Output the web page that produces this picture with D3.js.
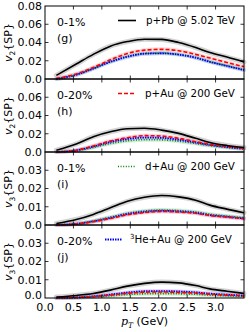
<!DOCTYPE html>
<html>
<head>
<meta charset="utf-8">
<script src="https://cdn.jsdelivr.net/npm/d3@7"></script>
<style>
body{margin:0;background:#fff;}
text{font-family:"DejaVu Sans",sans-serif;}
</style>
</head>
<body>
<div id="chart"></div>
<script>
// pT grid (GeV)
var pT = [0.2, 0.55, 0.85, 1.15, 1.45, 1.75, 2.05, 2.35, 2.65, 2.9, 3.2, 3.5];
var xTicks = [0.0, 0.5, 1.0, 1.5, 2.0, 2.5, 3.0];
var systems = ["p+Pb @ 5.02 TeV", "p+Au @ 200 GeV", "d+Au @ 200 GeV", "He+Au @ 200 GeV"];
var centrality = ["0-1%", "0-20%", "0-1%", "0-20%"];
var panelTags = ["(g)", "(h)", "(i)", "(j)"];
var v2Ticks = [0.0, 0.02, 0.04, 0.06, 0.08];
var v3Ticks = [0.0, 0.01, 0.02, 0.03];

// (g) v2 0-1%
var g_pPb  = [0.004, 0.0164, 0.027, 0.036, 0.041, 0.0436, 0.0434, 0.040, 0.0345, 0.029, 0.024, 0.0186];
var g_pAu  = [0.0007, 0.0055, 0.0127, 0.021, 0.028, 0.0316, 0.0325, 0.031, 0.027, 0.023, 0.018, 0.0135];
var g_dAu  = [0.0, 0.0047, 0.0116, 0.019, 0.0247, 0.028, 0.0285, 0.027, 0.0236, 0.019, 0.0145, 0.010];
var g_HeAu = [0.0, 0.0046, 0.0114, 0.0188, 0.0244, 0.0277, 0.0282, 0.0267, 0.0233, 0.0188, 0.0143, 0.0098];
// (h) v2 0-20%
var h_pPb  = [0.002, 0.0088, 0.0168, 0.0222, 0.0255, 0.026, 0.024, 0.0204, 0.015, 0.0105, 0.0072, 0.005];
var h_pAu  = [0.0, 0.002, 0.0066, 0.012, 0.0157, 0.0179, 0.0175, 0.015, 0.0113, 0.0084, 0.006, 0.004];
var h_dAu  = [0.0, 0.0015, 0.005, 0.0093, 0.0122, 0.0135, 0.0133, 0.0118, 0.0093, 0.007, 0.005, 0.0033];
var h_HeAu = [0.0, 0.0018, 0.006, 0.011, 0.0143, 0.0158, 0.0155, 0.0135, 0.0105, 0.0078, 0.0055, 0.0037];
// (i) v3 0-1%
var i_pPb  = [0.0008, 0.003, 0.0058, 0.0094, 0.013, 0.0152, 0.0162, 0.0154, 0.0136, 0.0109, 0.0087, 0.0067];
var i_pAu  = [0.0, 0.0005, 0.0018, 0.0036, 0.0056, 0.0068, 0.0074, 0.0071, 0.0064, 0.0052, 0.0043, 0.0034];
var i_dAu  = [0.0, 0.0007, 0.0022, 0.0043, 0.0064, 0.0077, 0.0082, 0.0079, 0.0071, 0.0059, 0.0049, 0.004];
var i_HeAu = [0.0, 0.0006, 0.002, 0.0039, 0.006, 0.0072, 0.0078, 0.0074, 0.0067, 0.0054, 0.0045, 0.0036];
// (j) v3 0-20%
var j_pPb  = [0.0005, 0.0014, 0.0025, 0.0043, 0.0065, 0.008, 0.0087, 0.0083, 0.0068, 0.005, 0.0037, 0.0025];
var j_pAu  = [0.0, 0.0003, 0.0008, 0.0016, 0.0026, 0.0032, 0.0033, 0.0031, 0.0027, 0.0021, 0.0016, 0.0011];
var j_dAu  = [0.0, 0.0002, 0.0006, 0.0012, 0.0019, 0.0023, 0.0024, 0.0023, 0.0020, 0.0016, 0.0012, 0.0009];
var j_HeAu = [0.0, 0.0003, 0.0009, 0.0019, 0.003, 0.0037, 0.0038, 0.0036, 0.0031, 0.0024, 0.0018, 0.0013];

var panelData = [
  [g_pPb, g_pAu, g_dAu, g_HeAu],
  [h_pPb, h_pAu, h_dAu, h_HeAu],
  [i_pPb, i_pAu, i_dAu, i_HeAu],
  [j_pPb, j_pAu, j_dAu, j_HeAu]
];

var width = 249, height = 332;
var margin = {left: 45, right: 5, top: 6};
var panelH = 73;
var plotW = width - margin.left - margin.right;

var styles = [
  {color: "#000000", band: "#808080", bandOp: 0.35, dash: null, w: 1.6},
  {color: "#ff0000", band: "#ff9999", bandOp: 0.35, dash: "4,2", w: 1.6},
  {color: "#008000", band: "#80d080", bandOp: 0.35, dash: "1,1.6", w: 1.6},
  {color: "#0000ff", band: "#9999ff", bandOp: 0.35, dash: "1.5,1", w: 1.8}
];
// legend placement per panel: line start/end and text start
var legendPos = [
  {x1: 118, x2: 136, tx: 146},
  {x1: 118, x2: 136, tx: 145},
  {x1: 118, x2: 136, tx: 145},
  {x1: 105, x2: 122, tx: 130}
];

var svg = d3.select("#chart").append("svg")
  .attr("width", width).attr("height", height);

var x = d3.scaleLinear().domain([0, 3.5]).range([margin.left, margin.left + plotW]);

panelData.forEach(function(series, p){
  var top = margin.top + p*panelH;
  var isV2 = p < 2;
  var y = d3.scaleLinear().domain([0, isV2 ? 0.08 : 0.04]).range([top + panelH, top]);
  var g = svg.append("g").attr("class", "panel--"+p);

  var line = d3.line().curve(d3.curveMonotoneX)
    .x(function(d,i){ return x(pT[i]); })
    .y(function(d){ return y(d); });

  // bands (drawn as wide faint strokes)
  series.forEach(function(s, k){
    g.append("path").attr("d", line(s))
      .attr("fill", "none")
      .attr("stroke", styles[k].band)
      .attr("stroke-opacity", styles[k].bandOp)
      .attr("stroke-width", k == 0 ? 5 : 4)
      .attr("stroke-linecap", "round");
  });
  [2, 3, 1, 0].forEach(function(k){
    g.append("path").attr("d", line(series[k]))
      .attr("fill", "none")
      .attr("stroke", styles[k].color)
      .attr("stroke-width", styles[k].w)
      .attr("stroke-dasharray", styles[k].dash);
  });

  // frame
  g.append("rect")
    .attr("x", margin.left).attr("y", top)
    .attr("width", plotW).attr("height", panelH)
    .attr("fill", "none").attr("stroke", "#000").attr("stroke-width", 1);

  // x ticks, inward, top & bottom
  xTicks.forEach(function(t){
    if(t == 0) return;
    g.append("line").attr("x1", x(t)).attr("x2", x(t))
      .attr("y1", top+panelH).attr("y2", top+panelH-3.5).attr("stroke", "#000").attr("stroke-width", 0.8);
    g.append("line").attr("x1", x(t)).attr("x2", x(t))
      .attr("y1", top).attr("y2", top+3.5).attr("stroke", "#000").attr("stroke-width", 0.8);
  });

  // y ticks
  var yt = isV2 ? v2Ticks : v3Ticks;
  yt.forEach(function(t){
    if(t > 0 && t < y.domain()[1]){
      g.append("line").attr("x1", margin.left).attr("x2", margin.left+3.5)
        .attr("y1", y(t)).attr("y2", y(t)).attr("stroke", "#000").attr("stroke-width", 0.8);
      g.append("line").attr("x1", margin.left+plotW).attr("x2", margin.left+plotW-3.5)
        .attr("y1", y(t)).attr("y2", y(t)).attr("stroke", "#000").attr("stroke-width", 0.8);
    }
    if(p == 1 && t == 0.08) return;
    g.append("text")
      .attr("x", margin.left - 3).attr("y", y(t))
      .attr("dy", p == 3 && t == 0 ? "0.1em" : "0.36em")
      .attr("text-anchor", "end")
      .attr("font-size", 11)
      .text(t == 0 ? "0.0" : t.toFixed(2));
  });

  // y label
  var yl = g.append("text")
    .attr("transform", "translate(12," + (top + panelH/2) + ") rotate(-90)")
    .attr("text-anchor", "middle")
    .attr("font-size", 11)
    .attr("font-family", "DejaVu Serif");
  yl.append("tspan").attr("font-style", "italic").text("v");
  yl.append("tspan").attr("font-size", 7.5).attr("dy", 2.5).text(isV2 ? "2" : "3");
  yl.append("tspan").attr("dy", -2.5).text("{SP}");

  // corner labels
  g.append("text").attr("x", 57).attr("y", top+19.5).attr("font-size", 11).text(centrality[p]);
  g.append("text").attr("x", 57).attr("y", top+36).attr("font-size", 11).text(panelTags[p]);

  // legend entry
  var lp = legendPos[p];
  var ly = top + 14.5;
  g.append("line").attr("x1", lp.x1).attr("x2", lp.x2).attr("y1", ly).attr("y2", ly)
    .attr("stroke", styles[p].color).attr("stroke-width", styles[p].w)
    .attr("stroke-dasharray", styles[p].dash);
  var lt = g.append("text").attr("x", lp.tx).attr("y", top+18).attr("font-size", 10.3);
  if(p == 3){
    lt.append("tspan").attr("font-size", 7).attr("dy", -4).text("3");
    lt.append("tspan").attr("dy", 4).text(systems[p]);
  } else {
    lt.text(systems[p]);
  }
});

// x tick labels
var bottom = margin.top + 4*panelH;
xTicks.forEach(function(t){
  svg.append("text").attr("x", x(t)).attr("y", bottom + 13)
    .attr("text-anchor", "middle").attr("font-size", 11)
    .text(t.toFixed(1));
});

// x label
var xl = svg.append("text").attr("x", x(1.75)).attr("y", bottom + 27)
  .attr("text-anchor", "middle").attr("font-size", 11);
xl.append("tspan").attr("font-family", "DejaVu Serif").attr("font-style", "italic").text("p");
xl.append("tspan").attr("font-family", "DejaVu Serif").attr("font-style", "italic")
  .attr("font-size", 7.5).attr("dy", 2.5).text("T");
xl.append("tspan").attr("dy", -2.5).text(" (GeV)");
</script>
</body>
</html>
